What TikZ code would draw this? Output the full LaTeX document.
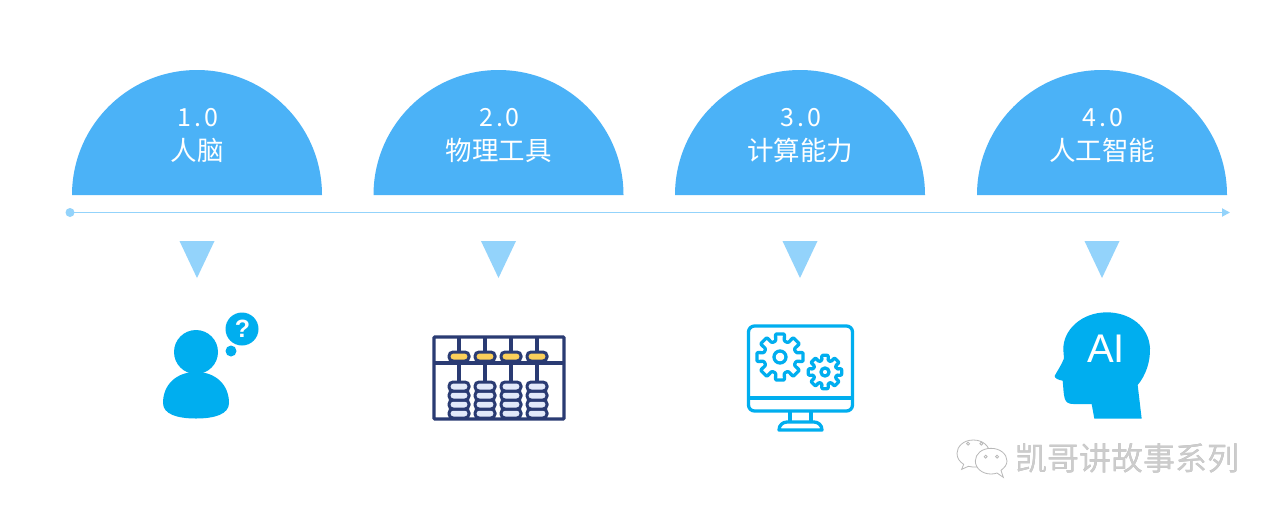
\documentclass[tikz,border=0pt]{standalone}
\usepackage{fontspec}
\setmainfont{Noto Sans CJK SC}
\newfontfamily\cjkfont{Noto Sans CJK SC}
\newfontfamily\numfont[LetterSpace=12]{Noto Sans CJK SC}
\newfontfamily\aifont{Liberation Sans}
\usetikzlibrary{arrows.meta}
\definecolor{domeblue}{HTML}{4BB2F7}
\definecolor{lineblue}{HTML}{93D3FB}
\definecolor{iconblue}{HTML}{00AEEF}
\definecolor{navy}{HTML}{2A3B73}
\definecolor{beadyellow}{HTML}{FBCF5A}
\definecolor{beadlight}{HTML}{E2E9FA}
\definecolor{markgray}{HTML}{808080}
\tikzset{
  dome/.style={fill=domeblue,draw=none},
  pointer/.style={fill=lineblue,draw=none},
  domelabel/.style={text=white,font=\cjkfont\fontsize{26.5}{26.5}\selectfont,inner sep=0pt},
  domenum/.style={text=white,font=\numfont\fontsize{25}{25}\selectfont,inner sep=0pt},
  rod/.style={draw=navy,line width=3.3pt},
  beadup/.style={fill=beadyellow,draw=navy,line width=3pt,rounded corners=4pt},
  beadlow/.style={fill=beadlight,draw=navy,line width=3pt,rounded corners=4pt},
  screenline/.style={draw=iconblue,line width=3.3pt,line join=round},
  wechat/.style={draw=black!28,fill=white,line width=0.8pt},
}
\newcommand{\gearat}[5]{% cx cy rin rout hole
  \draw[screenline,shift={(#1,#2)},rounded corners=1pt]
    (-15:#3)
    \foreach \a in {0,45,...,315}{
      -- ({\a-15}:#3) -- ({\a-11}:#4) -- ({\a+11}:#4) -- ({\a+15}:#3)
    } -- cycle;
  \draw[screenline] (#1,#2) circle (#5);
}
\newcommand{\domeat}[4]{% cx name num label
  \fill[dome] (#1-125,195) arc[start angle=180,end angle=360,x radius=125,y radius=125] -- cycle;
  \node[domenum] (num#2) at (#1+1,118) {#3};
  \node[domelabel] (lab#2) at (#1,150) {#4};
  \fill[pointer] (#1-17.5,241) -- (#1+17.5,241) -- (#1,278) -- cycle;
}
\newcommand{\beadcol}[1]{%
  \draw[rod] (#1,337) -- (#1,352);
  \draw[rod] (#1,363) -- (#1,382);
  \draw[beadup] (#1-10,352) rectangle (#1+10,361);
  \foreach \yy in {413.5,404.5,395.5,386.5}{
    \draw[beadlow] (#1-10,\yy-4.5) rectangle (#1+10,\yy+4.5);
  }
}
\begin{document}
\begin{tikzpicture}[x=1pt,y=-1pt]
\useasboundingbox (0,0) rectangle (1280,515);
\fill[white] (0,0) rectangle (1280,515);

\domeat{197}{a}{1.0}{人脑}
\domeat{498.5}{b}{2.0}{物理工具}
\domeat{800}{c}{3.0}{计算能力}
\domeat{1102}{d}{4.0}{人工智能}

% timeline
\coordinate (tstart) at (70,212.5);
\coordinate (tend) at (1230,212.5);
\fill[lineblue] (tstart) circle (4.5);
\draw[lineblue,line width=1.8pt,-{Triangle[length=8pt,width=8pt]}] (tstart) -- (tend);

% person
\fill[iconblue] (196,352) circle (22);
\fill[iconblue] (163,403) .. controls (163,385) and (176,372) .. (196,372) .. controls (216,372) and (229,385) .. (229,403)
  .. controls (229,414) and (215,418.5) .. (196,418.5) .. controls (177,418.5) and (163,414) .. (163,403) -- cycle;
\fill[iconblue] (242,329) circle (16.5);
\fill[iconblue] (231,351) circle (5.5);
\node[text=white,font=\aifont\bfseries\fontsize{25}{25}\selectfont,inner sep=0pt] (qmark) at (242.5,328.5) {?};

% abacus
\draw[navy,line width=3.3pt,rounded corners=1pt] (434,337) rectangle (564,419);
\draw[rod] (434,363) -- (564,363);
\beadcol{459}
\beadcol{485}
\beadcol{511}
\beadcol{537}

% monitor
\draw[screenline,rounded corners=6pt] (748.5,326) rectangle (852.5,411);
\draw[screenline] (748.5,398) -- (852.5,398);
\draw[screenline] (790,411) -- (790,422);
\draw[screenline] (811,411) -- (811,422);
\draw[screenline] (779,430) .. controls (779,425) and (783,422) .. (787,422) -- (814,422) .. controls (818,422) and (822,425) .. (822,430) -- cycle;
\gearat{780}{357}{16.5}{23.5}{6}
\gearat{825}{372}{12}{17}{4}

% AI head
\begin{scope}[shift={(1040,305)},x=0.33333pt,y=-0.33333pt]
\fill[iconblue] (305,341) -- (293,240)
  .. controls (318,210) and (331,170) .. (330,130)
  .. controls (327,65) and (270,22) .. (200,22)
  .. controls (125,22) and (68,75) .. (70,135)
  .. controls (70,145) and (72,150) .. (72,160)
  .. controls (65,180) and (50,200) .. (44,213)
  .. controls (44,220) and (55,225) .. (68,227)
  .. controls (70,245) and (70,265) .. (74,280)
  .. controls (78,292) and (85,297) .. (100,297)
  -- (155,297) -- (163,341) -- cycle;
\end{scope}
\node[text=white,font=\aifont\fontsize{40}{40}\selectfont,inner sep=0pt] (ailabel) at (1106,349) {AI};

% WeChat mark
\begin{scope}[shift={(945,430)},x=0.33333pt,y=-0.33333pt]
\draw[wechat] (85,30) .. controls (55,30) and (36,50) .. (36,70) .. controls (36,85) and (44,95) .. (56,103) -- (50,118) -- (70,109) .. controls (85,112) and (100,112) .. (110,108)
  .. controls (130,100) and (134,85) .. (134,70) .. controls (134,50) and (115,30) .. (85,30) -- cycle;
\draw[wechat] (138,55) .. controls (110,55) and (91,72) .. (91,93) .. controls (91,115) and (112,132) .. (138,132) .. controls (146,132) and (150,131) .. (156,129) -- (175,142) -- (168,121) .. controls (178,113) and (186,105) .. (186,93) .. controls (186,72) and (165,55) .. (138,55) -- cycle;
\draw[wechat] (69,41) circle (4.5);
\draw[wechat] (109,41) circle (4.5);
\draw[wechat] (122,80) circle (4.5);
\draw[wechat] (156,80) circle (4.5);
\end{scope}
\node[text=markgray,font=\cjkfont\fontsize{32}{32}\selectfont,inner sep=0pt] (markshadow) at (1127.6,458.6) {凯哥讲故事系列};
\node[text=white,font=\cjkfont\fontsize{32}{32}\selectfont,inner sep=0pt,opacity=0.6] (marktext) at (1127,458) {凯哥讲故事系列};
\end{tikzpicture}
\end{document}
